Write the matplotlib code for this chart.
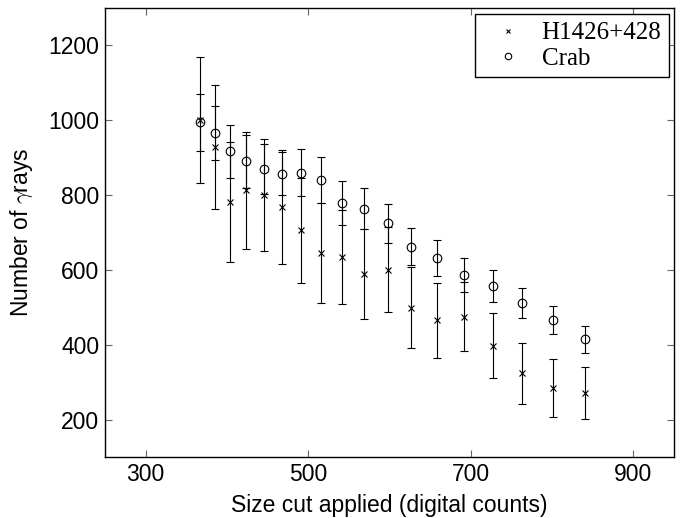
#Number of gamma rays vs size cut, H1426+428 and Crab
import numpy as np
import matplotlib.pyplot as plt
from matplotlib import rcParams

rcParams['font.family'] = ['Liberation Sans', 'DejaVu Sans']
rcParams['mathtext.fontset'] = 'cm'

#Size cuts (digital counts)
size_cut = [367, 385, 404, 424, 446, 468, 491, 516, 541, 569,
            598, 627, 659, 692, 727, 763, 801, 840]

#H1426+428 gamma ray counts and errors
h1426_n = [1000, 929, 781, 813, 801, 768, 706, 645, 635, 589,
           601, 499, 465, 475, 397, 324, 285, 271]
h1426_err = [169, 166, 161, 156, 150, 153, 140, 133, 125, 121,
             114, 108, 100, 93, 87, 82, 78, 70]

#Crab gamma ray counts and errors
crab_n = [995, 966, 917, 890, 870, 857, 860, 840, 779, 764,
          725, 662, 632, 587, 557, 512, 466, 415]
crab_err = [76, 73, 71, 70, 67, 57, 63, 62, 58, 55,
            52, 50, 49, 46, 43, 41, 38, 36]

fig = plt.figure(figsize=(6.9, 5.18), dpi=100)
ax = fig.add_axes([105/690, 1 - 457/518, (674 - 105)/690, (457 - 8)/518])

eb_h = ax.errorbar(size_cut, h1426_n, yerr=h1426_err, fmt='x', color='k',
                   ms=4, mew=0.8, capsize=3, elinewidth=0.8, capthick=0.8)
eb_c = ax.errorbar(size_cut, crab_n, yerr=crab_err, fmt='o', color='k',
                   mfc='none', ms=6.2, mew=0.8, capsize=3, elinewidth=0.8, capthick=0.8)

ax.set_xlim(250, 950)
ax.set_ylim(100, 1300)
ax.set_xticks([300, 500, 700, 900])
ax.set_yticks([200, 400, 600, 800, 1000, 1200])
ax.tick_params(direction='in', length=5, width=0.8, color='0.4', top=True, right=True,
               labelsize=16.5, pad=4)
for sp in ax.spines.values():
    sp.set_linewidth(1.0)

ax.set_xlabel('Size cut applied (digital counts)', fontsize=16.5, labelpad=6)
ax.set_ylabel(r'Number of $\gamma$rays', fontsize=16.5, labelpad=10)

leg = ax.legend([eb_h[0], eb_c[0]], ['H1426+428', 'Crab'], loc='upper right',
                bbox_to_anchor=(0.991, 0.986), borderaxespad=0, fancybox=False,
                edgecolor='k', framealpha=1, markerscale=0.75, handlelength=2.0,
                handletextpad=0.35, borderpad=0.3, labelspacing=0.12,
                prop={'family': 'Liberation Serif', 'size': 18})
leg.get_frame().set_linewidth(1.0)

fig.savefig('out.png', dpi=100)
